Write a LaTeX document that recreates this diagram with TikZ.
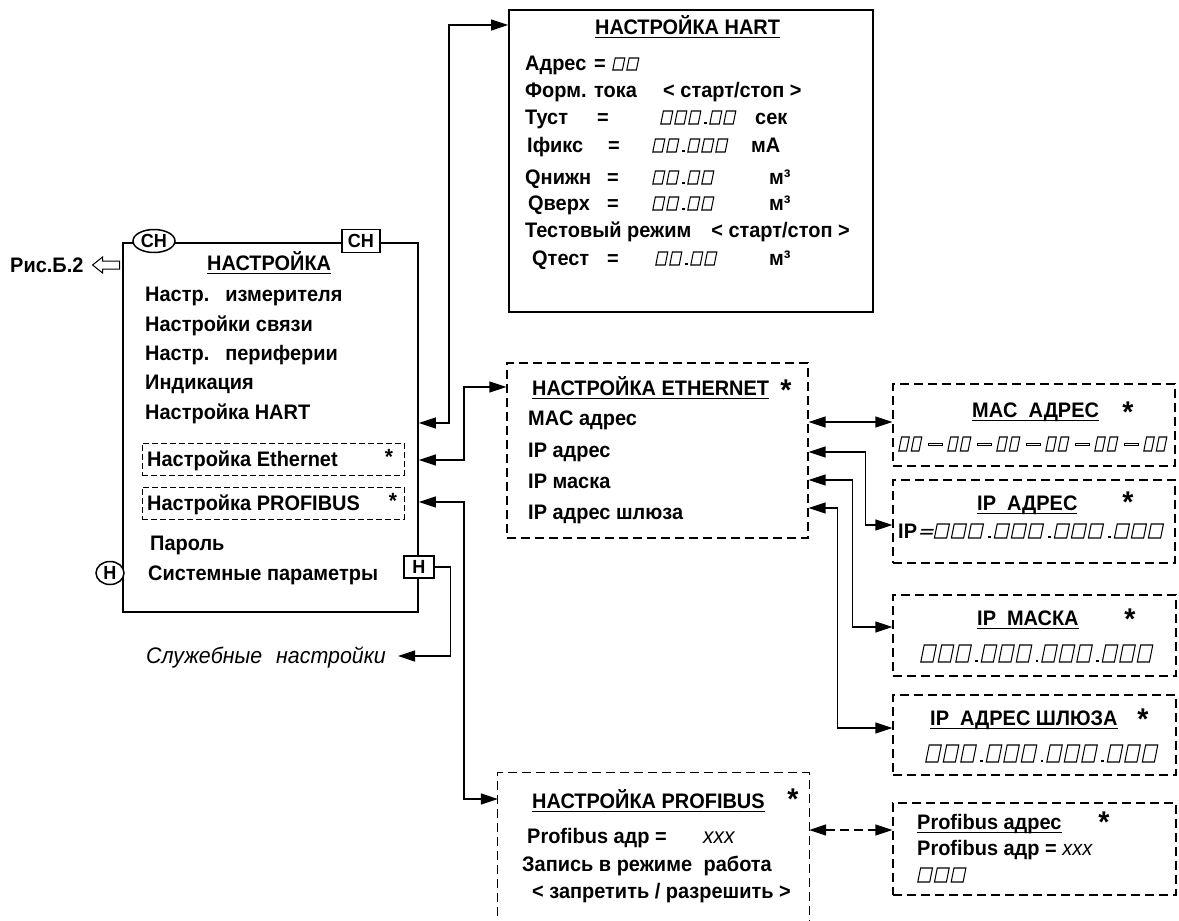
\documentclass[tikz,border=0pt]{standalone}
\usepackage{fontspec}
\setmainfont[FakeStretch=0.95]{Liberation Sans}
\newfontfamily\segfont[FakeSlant=0.25]{DejaVu Sans}
\usetikzlibrary{arrows.meta,shapes.geometric}
\newsavebox\ulbox
\newcommand\ulx[1]{\sbox\ulbox{#1}\rlap{\rule[-3.5pt]{\wd\ulbox}{1.4pt}}\usebox\ulbox}
\newcommand\cl[2]{\makebox[#1pt][l]{#2}}
\def\bpwn{14}\def\bphn{14}
% one seven-segment "0" place holder, advance \bpwn, height \bphn
\newcommand\bx{\tikz[baseline=0pt,x=1pt,y=1pt]{\useasboundingbox (0,0) rectangle (\bpwn,\bphn);
  \draw[line width=1.05pt,line join=miter] (0.6,0.5) -- ++({\bpwn-0.2*\bphn-1.8},0) -- ++({0.2*(\bphn-1)},{\bphn-1}) -- ++({-(\bpwn-0.2*\bphn-1.8)},0) -- cycle;}}
\newcommand\dt[1]{\tikz[baseline=0pt,x=1pt,y=1pt]{\useasboundingbox (0,0) rectangle (#1,1);\fill ({#1/2-1.5},0.3) rectangle ({#1/2+1.2},2.8);}}
\newcommand\ds{\tikz[baseline=0pt,x=1pt,y=1pt]{\useasboundingbox (0,0) rectangle (24,1);\draw[line width=0.8pt] (5,6.6) rectangle (19,8.4);}}
\begin{document}
\begin{tikzpicture}[x=1pt,y=-1pt,
  lbl/.style={font=\fontsize{21}{26}\selectfont\bfseries, inner sep=0pt, anchor=west, text height=15pt, text depth=0pt},
  ital/.style={font=\fontsize{22.5}{26}\selectfont\itshape, inner sep=0pt, anchor=west, text height=15pt, text depth=0pt},
  solidbox/.style={draw, line width=1.8pt, inner sep=0pt, fill=white},
  dframe/.style={draw, line width=1.2pt, dash pattern=on 9pt off 5pt, inner sep=0pt},
  dline/.style={line width=1.2pt, dash pattern=on 9pt off 5pt},
  sdframe/.style={draw, line width=1pt, dash pattern=on 6pt off 3pt, inner sep=0pt},
  tagbox/.style={draw, line width=1.5pt, fill=white, inner sep=0pt, font=\fontsize{19}{19}\selectfont\bfseries},
  conn/.style={line width=1.3pt, {Triangle[length=17pt,width=11pt]}-{Triangle[length=17pt,width=11pt]}},
  conn1/.style={line width=1.3pt, -{Triangle[length=17pt,width=11pt]}},
  sast/.style={font=\fontsize{22}{22}\selectfont\bfseries, inner sep=0pt, anchor=base},
  bast/.style={font=\fontsize{30}{30}\selectfont\bfseries, inner sep=0pt, anchor=base},
]
\useasboundingbox (0,0) rectangle (1179,921);

% ---------- frames ----------
\node[solidbox, minimum width=295pt, minimum height=369pt] (main) at (270.5,427.5) {};
\node[solidbox, minimum width=364pt, minimum height=302pt] (hart) at (691,161) {};
\node[dframe, minimum width=301pt, minimum height=175pt] (eth) at (657.5,450.5) {};
\node[dframe, minimum width=282pt, minimum height=82pt] (mac) at (1034,425) {};
\node[dframe, minimum width=282pt, minimum height=83pt] (ip) at (1034,521.5) {};
\node[dframe, minimum width=283pt, minimum height=81pt] (mask) at (1034.5,635.5) {};
\node[dframe, minimum width=283pt, minimum height=80pt] (gw) at (1034.5,735) {};
\node[inner sep=0pt, minimum width=311pt, minimum height=157pt] (pb) at (653.5,851.5) {};
\draw[dline] (pb.south west) -- (pb.north west) -- (pb.north east) -- (pb.south east);
\node[dframe, minimum width=283pt, minimum height=92pt] (pbs) at (1034.5,849) {};
\node[sdframe, minimum width=262pt, minimum height=32pt] (ethi) at (273,459) {};
\node[sdframe, minimum width=262pt, minimum height=32pt] (pbi) at (273,503) {};

% ---------- tags ----------
\node[tagbox, ellipse, minimum width=42pt, minimum height=23pt] (ch1) at (154,241) {СН};
\node[tagbox, minimum width=38pt, minimum height=23pt] (ch2) at (361,241) {СН};
\node[tagbox, ellipse, minimum width=28pt, minimum height=23pt] (h1) at (110,573) {Н};
\node[tagbox, minimum width=30pt, minimum height=22pt] (h2) at (419,567) {Н};

% ---------- main menu ----------
\node[lbl] (ris) at (10,265) {Рис.Б.2};
\draw[line width=1pt, fill=white] ([xshift=9pt]ris.east) -- ++(10,-8) -- ++(0,4) -- ++(17,0) -- ++(0,8) -- ++(-17,0) -- ++(0,4) -- cycle;
\node[lbl] (ttl) at (207,263) {\ulx{НАСТРОЙКА}};
\node[lbl] (m1) at (145,294) {Настр.\hspace{16pt}измерителя};
\node[lbl] (m2) at (145,324) {Настройки связи};
\node[lbl] (m3) at (145,353) {Настр.\hspace{16pt}периферии};
\node[lbl] (m4) at (145,382) {Индикация};
\node[lbl] (m5) at (145,412) {Настройка HART};
\node[lbl] (m6) at (147,459) {Настройка Ethernet};
\node[sast] (m6a) at (389,464) {*};
\node[lbl] (m7) at (147,503) {Настройка PROFIBUS};
\node[sast] (m7a) at (393,508) {*};
\node[lbl] (m8) at (150,543) {Пароль};
\node[lbl] (m9) at (148,573) {Системные параметры};
\node[ital, anchor=east] (sl) at (386,656) {Служебные\hspace{14pt}настройки};
\coordinate (slc) at (398,656);

% ---------- HART ----------
\node[lbl] (ht) at (595,27) {\ulx{НАСТРОЙКА HART}};
\node[lbl] (h1r) at (525,63) {\cl{69}{Адрес}\cl{18}{=}\def\bphn{13}\bx\bx};
\node[lbl] (h2r) at (525,90) {\cl{138}{Форм. тока}< старт/стоп >};
\node[lbl] (h3r) at (525,117) {\cl{72}{Туст}\cl{63}{=}\bx\bx\bx\dt{7}\bx\bx\hspace{18pt}сек};
\node[lbl] (h4r) at (527,145) {\cl{81}{Iфикс}\cl{44}{=}\bx\bx\dt{7}\bx\bx\bx\hspace{22pt}мА};
\node[lbl] (h5r) at (525,177) {\cl{82}{Qнижн}\cl{45}{=}\bx\bx\dt{7}\bx\bx\hspace{54pt}м³};
\node[lbl] (h6r) at (528,203) {\cl{79}{Qверх}\cl{45}{=}\bx\bx\dt{7}\bx\bx\hspace{54pt}м³};
\node[lbl] (h7r) at (525,230) {Тестовый режим\hspace{20pt}< старт/стоп >};
\node[lbl] (h8r) at (532,258) {\cl{75}{Qтест}\cl{48}{=}\bx\bx\dt{7}\bx\bx\hspace{51pt}м³};

% ---------- Ethernet ----------
\node[lbl] (et) at (532,388) {\ulx{НАСТРОЙКА ETHERNET}};
\node[bast] (eta) at (786,400) {*};
\node[lbl] (e1) at (528,418) {MAC адрес};
\node[lbl] (e2) at (528,450) {IP адрес};
\node[lbl] (e3) at (528,481) {IP маска};
\node[lbl] (e4) at (528,512) {IP адрес шлюза};

% ---------- right boxes ----------
\node[lbl] (mt) at (972,410) {\ulx{MAC\hspace{11pt}АДРЕС}};
\node[bast] (mta) at (1128,422) {*};
\node[lbl] (mv) at (898,444) {\def\bpwn{12.5}\def\bphn{15}\bx\bx\ds\bx\bx\ds\bx\bx\ds\bx\bx\ds\bx\bx\ds\bx\bx};

\node[lbl] (it) at (977,503) {\ulx{IP\hspace{11pt}АДРЕС}};
\node[bast] (ita) at (1128,512) {*};
\node[lbl] (iv) at (898,531) {IP{\segfont\mdseries\fontsize{20}{24}\selectfont=}\def\bpwn{17}\def\bphn{15}\bx\bx\bx\dt{9}\bx\bx\bx\dt{9}\bx\bx\bx\dt{9}\bx\bx\bx};

\node[lbl] (kt) at (977,618) {\ulx{IP\hspace{11pt}МАСКА}};
\node[bast] (kta) at (1130,629) {*};
\node[lbl] (kv) at (920,655) {\def\bpwn{17.5}\def\bphn{18}\bx\bx\bx\dt{8}\bx\bx\bx\dt{8}\bx\bx\bx\dt{8}\bx\bx\bx};

\node[lbl] (gt) at (930,718) {\ulx{IP\hspace{11pt}АДРЕС ШЛЮЗА}};
\node[bast] (gta) at (1143,729) {*};
\node[lbl] (gv) at (925,755) {\def\bpwn{17.5}\def\bphn{18}\bx\bx\bx\dt{8}\bx\bx\bx\dt{8}\bx\bx\bx\dt{8}\bx\bx\bx};

% ---------- Profibus ----------
\node[lbl] (pt) at (532,801) {\ulx{НАСТРОЙКА PROFIBUS}};
\node[bast] (pta) at (793,809) {*};
\node[lbl] (p1) at (527,836) {\cl{176}{Profibus адр =}{\mdseries\itshape\fontsize{22}{24}\selectfont xxx}};
\node[lbl] (p2) at (522,864) {Запись в режиме\hspace{6pt} работа};
\node[lbl] (p3) at (532,891) {< запретить / разрешить >};

\node[lbl] (st) at (917,822) {\ulx{Profibus адрес}};
\node[bast] (sta) at (1104,832) {*};
\node[lbl] (s1) at (917,848) {Profibus адр = {\mdseries\itshape xxx}};
\node[lbl] (s2) at (917,875) {\def\bpwn{16.7}\def\bphn{15}\bx\bx\bx};

% ---------- connectors ----------
\draw[conn] (main.east |- 0,423) -- ++(30,0) |- (hart.west |- 0,25);
\draw[conn] (main.east |- 0,460) -- ++(45,0) |- (eth.west |- 0,387);
\draw[conn] (main.east |- 0,502) -- ++(45,0) |- (pb.west |- 0,799);
\draw[conn1] (h2.east) -- ++(16,0) |- (slc);
\draw[conn] (eth.east |- 0,422) -- (mac.west |- 0,422);
\draw[conn] (eth.east |- 0,452) -- ++(57,0) |- (ip.west |- 0,525);
\draw[conn] (eth.east |- 0,480) -- ++(44,0) |- (mask.west |- 0,627);
\draw[conn] (eth.east |- 0,508) -- ++(29,0) |- (gw.west |- 0,728);
\draw[conn, dash pattern=on 9pt off 5pt] (pb.east |- 0,830) -- (pbs.west |- 0,830);
\end{tikzpicture}
\end{document}
